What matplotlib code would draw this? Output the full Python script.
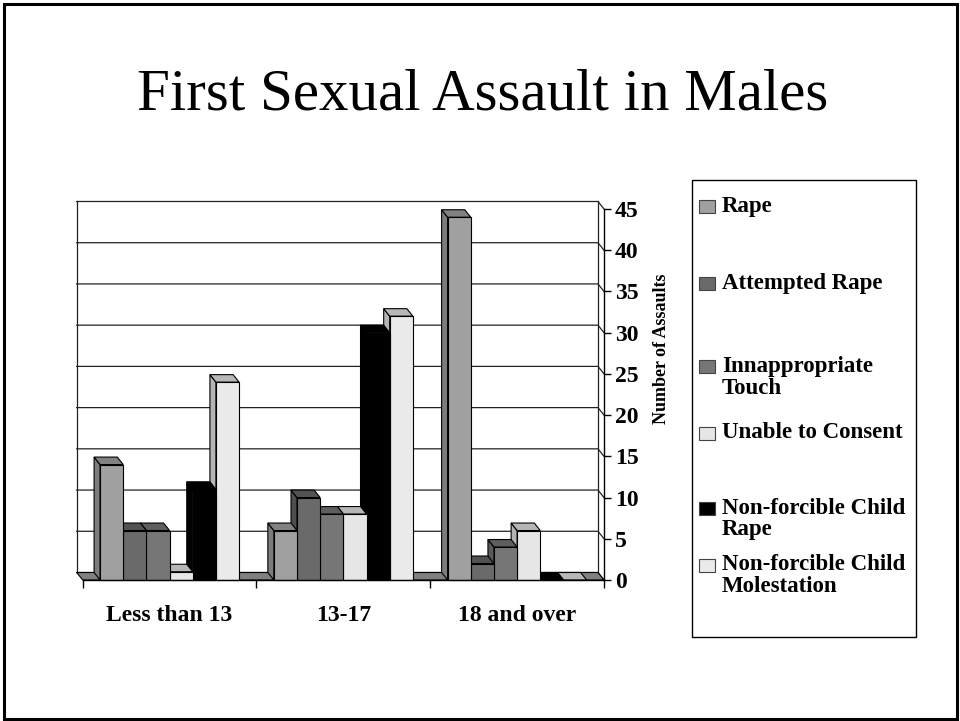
import matplotlib
matplotlib.use("Agg")
import matplotlib.pyplot as plt
from matplotlib.patches import Polygon, Rectangle

plt.rcParams['font.family'] = ['Liberation Serif', 'DejaVu Serif']

# data
categories = ['Less than 13', '13-17', '18 and over']
series = ['Rape', 'Attempted Rape', 'Innappropriate\nTouch', 'Unable to Consent',
          'Non-forcible Child\nRape', 'Non-forcible Child\nMolestation']
rape = [14, 6, 44]
attempted_rape = [6, 10, 2]
inappropriate_touch = [6, 8, 4]
unable_to_consent = [1, 8, 6]
nonforcible_rape = [11, 30, 0]
nonforcible_molestation = [24, 32, 0]
values = [rape, attempted_rape, inappropriate_touch, unable_to_consent,
          nonforcible_rape, nonforcible_molestation]
y_ticks = list(range(0, 50, 5))

# (front, side, top) shades for the fake 3D look
shades = [('#A0A0A0', '#7C7C7C', '#828282'),
          ('#6A6A6A', '#4E4E4E', '#525252'),
          ('#767676', '#5A5A5A', '#5E5E5E'),
          ('#E6E6E6', '#B2B2B2', '#B6B6B6'),
          ('#000000', '#000000', '#000000'),
          ('#EAEAEA', '#B4B4B4', '#B8B8B8')]

W, H = 960, 721
fig = plt.figure(figsize=(W / 100, H / 100), dpi=100)

# overlay in pixel units for frame, title and legend
ov = fig.add_axes([0, 0, 1, 1])
ov.set_xlim(0, W)
ov.set_ylim(H, 0)
ov.axis('off')
ov.add_patch(Rectangle((3.5, 3.5), W - 7, H - 6, fill=False, lw=2.2, ec='black'))
ov.text(483, 95, 'First Sexual Assault in Males', fontsize=42.5, ha='center', va='center')

# front plane of the chart
left, right, y0px, y45px = 82.7, 604.0, 580.0, 209.0
ax = fig.add_axes([left / W, (H - y0px) / H, (right - left) / W, (y0px - y45px) / H])
ax.set_xlim(0, 3)
ax.set_ylim(0, 45)
ax.patch.set_visible(False)

px_x = (right - left) / 3
px_y = (y0px - y45px) / 45
ddx = -6.0 / px_x   # depth offset, up-left
ddy = 7.5 / px_y

# back wall gridlines + right side wall
for v in y_ticks:
    ax.plot([ddx, 3 + ddx, 3], [v + ddy, v + ddy, v], color='#222222', lw=0.9,
            clip_on=False, zorder=1)
ax.plot([ddx, ddx], [ddy, 45 + ddy], color='#222222', lw=0.9, clip_on=False, zorder=1)
ax.plot([3 + ddx, 3 + ddx], [ddy, 45 + ddy], color='#222222', lw=0.9, clip_on=False, zorder=1)

# floor
ax.add_patch(Polygon([(0, 0), (3, 0), (3 + ddx, ddy), (ddx, ddy)], closed=True,
                     fc='#808080', ec='black', lw=0.8, clip_on=False, zorder=2))

n = len(series)
bw = 1 / (n + 1.5)
start = 0.75 * bw
z = 3
for g in range(len(categories)):
    for s in reversed(range(n)):
        h = values[s][g]
        x0 = g + start + s * bw
        front, side, top = shades[s]
        ax.add_patch(Polygon([(x0, 0), (x0, h), (x0 + ddx, h + ddy), (x0 + ddx, ddy)],
                             closed=True, fc=side, ec='black', lw=0.8, clip_on=False, zorder=z))
        ax.add_patch(Polygon([(x0, h), (x0 + bw, h), (x0 + bw + ddx, h + ddy), (x0 + ddx, h + ddy)],
                             closed=True, fc=top, ec='black', lw=0.8, clip_on=False, zorder=z))
        ax.add_patch(Rectangle((x0, 0), bw, h, fc=front, ec='black', lw=0.8,
                               clip_on=False, zorder=z))
        z += 1

# axes
for sp in ['left', 'top']:
    ax.spines[sp].set_visible(False)
for sp in ['right', 'bottom']:
    ax.spines[sp].set_linewidth(1.0)
    ax.spines[sp].set_zorder(50)
ax.yaxis.tick_right()
ax.set_yticks(y_ticks)
ax.set_yticklabels([str(v) for v in y_ticks], fontsize=17, fontweight='bold')
ax.tick_params(axis='y', length=5, width=1, pad=3)
ax.set_xticks([0, 1, 2, 3])
ax.set_xticklabels([])
ax.set_xticks([0.5, 1.5, 2.5], minor=True)
ax.set_xticklabels(categories, minor=True, fontsize=17, fontweight='bold')
ax.tick_params(axis='x', which='major', length=6, width=1)
ax.tick_params(axis='x', which='minor', length=0, pad=18)
ax.text((661.7 - left) / (right - left), (y0px - 349) / (y0px - y45px), 'Number of Assaults',
        transform=ax.transAxes, rotation=90, ha='center', va='center',
        fontsize=13, fontweight='bold')

# legend box
ov.add_patch(Rectangle((692, 180), 224, 457, fill=False, lw=1.0, ec='black'))
legend_y = [206.7, 283, 366.7, 433, 508, 565]
for s in range(n):
    y = legend_y[s]
    ov.add_patch(Rectangle((699, y - 6.5), 16, 13, fc=shades[s][0], ec='#444444', lw=0.8))
    for i, line in enumerate(series[s].split('\n')):
        ov.text(722, y + i * 21.5, line, fontsize=16.5, fontweight='bold', ha='left', va='center')

fig.savefig('out.png', dpi=100)
